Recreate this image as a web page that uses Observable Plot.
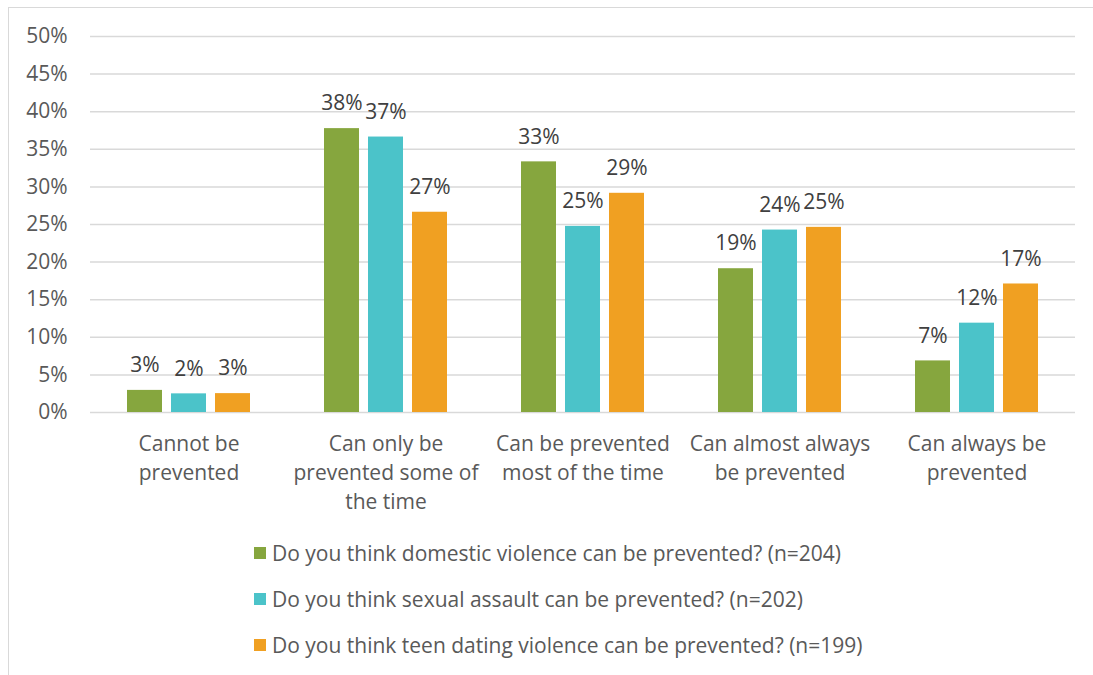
<!DOCTYPE html>
<html>
<head>
<meta charset="utf-8">
<script src="https://cdn.jsdelivr.net/npm/d3@7"></script>
<script src="https://cdn.jsdelivr.net/npm/@observablehq/plot@0.6"></script>
<style>
  html, body { margin: 0; padding: 0; background: #fff; }
  #wrap { position: relative; width: 1093px; height: 675px; overflow: hidden; font-family: "Open Sans", sans-serif; }
  #frame { position: absolute; left: 8px; top: 7px; right: -10px; bottom: -10px; border-top: 1px solid #d9d9d9; border-left: 1.5px solid #d9d9d9; pointer-events: none; }
  #chart { position: absolute; left: 0; top: 0; }
  #legend { position: absolute; left: 254px; top: 530px; color: #595959; font-size: 21px; }
  .row { position: absolute; left: 0; white-space: nowrap; display: flex; align-items: center; height: 30px; }
  .sw { width: 12px; height: 12px; margin-right: 6px; }
</style>
</head>
<body>
<div id="wrap">
  <div id="chart"></div>
  <div id="legend"></div>
  <div id="frame"></div>
</div>
<script>
// Answer categories along the x axis
const categories = [
  "Cannot be prevented",
  "Can only be prevented some of the time",
  "Can be prevented most of the time",
  "Can almost always be prevented",
  "Can always be prevented"
];
// How each category label wraps under the axis
const categoryLines = [
  "Cannot be\nprevented",
  "Can only be\nprevented some of\nthe time",
  "Can be prevented\nmost of the time",
  "Can almost always\nbe prevented",
  "Can always be\nprevented"
];
// Survey questions (one bar per question in each group)
const series = [
  "Do you think domestic violence can be prevented? (n=204)",
  "Do you think sexual assault can be prevented? (n=202)",
  "Do you think teen dating violence can be prevented? (n=199)"
];
// Percent of respondents per answer
const domestic = [2.94, 37.75, 33.33, 19.12, 6.86];
const sexual   = [2.48, 36.63, 24.75, 24.26, 11.88];
const teen     = [2.51, 26.63, 29.15, 24.62, 17.09];
const colors = ["#86a63e", "#4bc3c9", "#f0a022"];
const yTicks = [0, 5, 10, 15, 20, 25, 30, 35, 40, 45, 50];

const values = [domestic, sexual, teen];
const rows = [];
series.forEach((s, si) => {
  categories.forEach((c, ci) => rows.push({category: c, series: s, value: values[si][ci]}));
});

const chart = Plot.plot({
  width: 1093,
  height: 525,
  marginTop: 36,
  marginBottom: 113,
  marginLeft: 89,
  marginRight: 18,
  style: {fontFamily: "Open Sans, sans-serif", fontSize: "21px", color: "#595959", background: "transparent", overflow: "visible"},
  fx: {domain: categories, padding: 0},
  x: {domain: series, paddingInner: 0.205, paddingOuter: 0.84, axis: null},
  y: {domain: [0, 50]},
  color: {domain: series, range: colors},
  marks: [
    Plot.ruleY(yTicks, {stroke: "#d9d9d9", strokeWidth: 1.5}),
    Plot.barY(rows, {fx: "category", x: "series", y: "value", fill: "series"}),
    Plot.text(rows, {
      fx: "category", x: "series", y: "value",
      text: d => Math.round(d.value) + "%",
      dy: -25, fontSize: 21, fill: "#404040"
    }),
    Plot.axisY({ticks: yTicks, tickFormat: d => d + "%", tickSize: 0, tickPadding: 23, fontSize: 21, label: null}),
    Plot.axisFx({
      anchor: "bottom",
      tickSize: 0, tickPadding: 18, fontSize: 21, lineHeight: 1.38, label: null,
      tickFormat: d => categoryLines[categories.indexOf(d)]
    })
  ]
});
document.getElementById("chart").appendChild(chart);

// Legend below the plot
const legend = document.getElementById("legend");
const rowTops = [8, 54, 100];
series.forEach((s, i) => {
  const r = document.createElement("div");
  r.className = "row";
  r.style.top = rowTops[i] + "px";
  const sw = document.createElement("span");
  sw.className = "sw";
  sw.style.background = colors[i];
  const t = document.createElement("span");
  t.textContent = s;
  r.appendChild(sw);
  r.appendChild(t);
  legend.appendChild(r);
});
</script>
</body>
</html>
